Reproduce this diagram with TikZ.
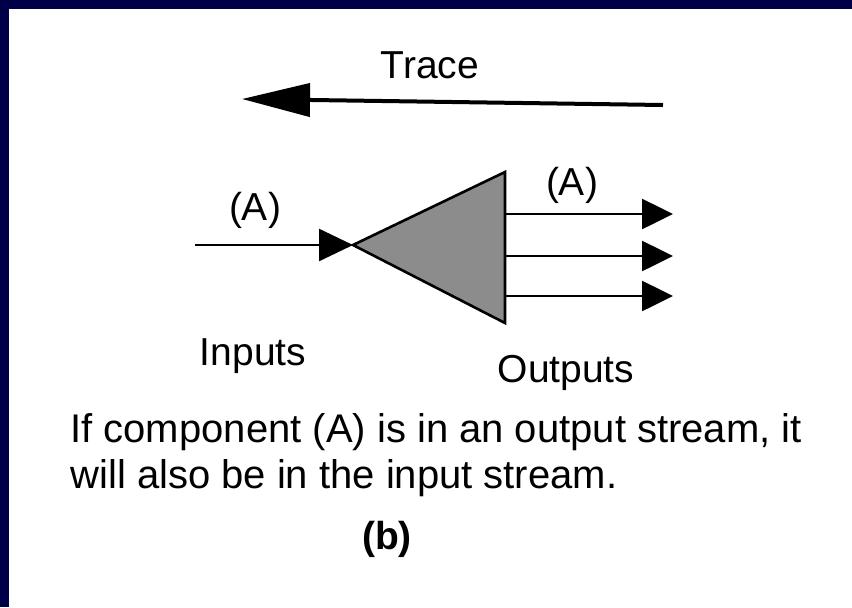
\documentclass[tikz,border=0pt]{standalone}
\usepackage{fontspec}
\setmainfont{Liberation Sans}
\usetikzlibrary{arrows.meta}
\definecolor{slidenavy}{RGB}{0,0,72}
\definecolor{blockgray}{RGB}{140,140,140}

\begin{document}
\begin{tikzpicture}[x=0.5pt,y=-0.5pt,line join=miter,
  lbl/.style={font=\fontsize{19.5}{23}\selectfont,inner sep=0pt,anchor=base},
  note/.style={font=\fontsize{20}{23}\selectfont,inner sep=0pt,anchor=base west},
  flow/.style={line width=1.3pt,-{Triangle[length=15.5pt,width=15pt]}},
  tracearrow/.style={line width=2pt,-{Triangle[length=34pt,width=16.5pt]}}]
\useasboundingbox (0,0) rectangle (852,607);
% slide frame
\fill[white] (0,0) rectangle (852,607);
\fill[slidenavy] (0,0) rectangle (852,9);
\fill[slidenavy] (0,0) rectangle (9,607);
% trace direction
\coordinate (traceR) at (663,105);
\coordinate (traceL) at (242,99);
\draw[tracearrow] (traceR) -- (traceL);
\node[lbl] (traceLbl) at (430,78) {Trace};
% separation block
\coordinate (apex) at (353,245);
\coordinate (topR) at (505,172);
\coordinate (botR) at (505,323);
\filldraw[fill=blockgray,draw=black,line width=1.3pt] (apex) -- (topR) -- (botR) -- cycle;
\coordinate (inS) at (195,245);
\draw[line width=1.3pt,-{Triangle[length=17pt,width=16pt]}] (inS) -- (apex);
\foreach \i/\y in {1/214,2/256,3/296}{
  \coordinate (outS\i) at (505,\y);
  \coordinate (outE\i) at (673,\y);
  \draw[flow] (outS\i) -- (outE\i);
}
\node[lbl] (inA) at (255,220) {(A)};
\node[lbl] (outA) at (572,195) {(A)};
\node[lbl] (inputsLbl) at (253,365) {Inputs};
\node[lbl] (outputsLbl) at (566,382) {Outputs};
% caption
\node[note] (noteA) at (70,442) {If component (A) is in an output stream, it};
\node[note] (noteB) at (70,488) {will also be in the input stream.};
\node[lbl,font=\fontsize{19.5}{23}\selectfont\bfseries] (figLbl) at (387,549) {(b)};
\end{tikzpicture}
\end{document}
